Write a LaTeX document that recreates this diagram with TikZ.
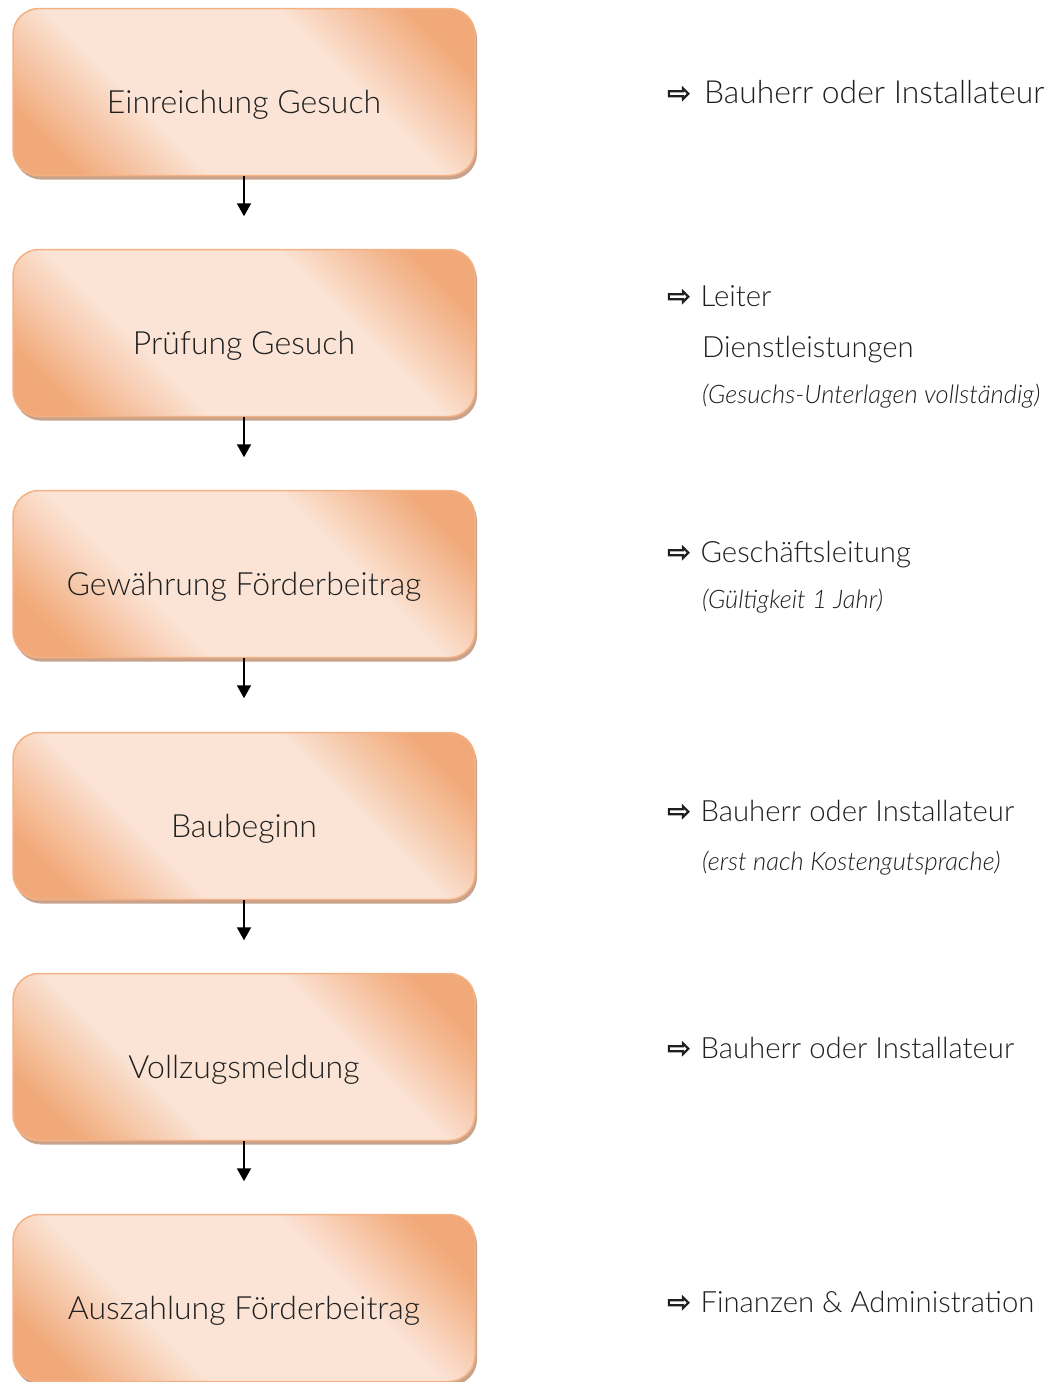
\documentclass[tikz,border=0pt]{standalone}
\usepackage{fontspec}
\setmainfont{Lato}[UprightFont=* Light, ItalicFont=* Light Italic]
\newfontfamily\arrowfont{DejaVu Sans}[FakeBold=3]
\usetikzlibrary{shadows,arrows.meta}
\definecolor{dk}{HTML}{F1A979}
\definecolor{lt}{HTML}{FBE4D6}
\colorlet{md}{dk!50!lt}
\definecolor{edge}{HTML}{F4B183}
\definecolor{shd}{HTML}{C9A28B}
\definecolor{txt}{HTML}{1F1F1F}
\pgfdeclareverticalshading{boxsh}{100bp}{color(0bp)=(dk); color(22bp)=(dk); color(29.5bp)=(md); color(37bp)=(lt); color(63bp)=(lt); color(70.5bp)=(md); color(78bp)=(dk); color(100bp)=(dk)}
\tikzset{
  box/.style={rounded corners=26pt, minimum width=462pt, minimum height=167pt, draw=edge, line width=1.5pt,
    shade, shading=boxsh, shading angle=-45,
    drop shadow={shadow xshift=2pt, shadow yshift=-4pt, fill=shd, opacity=1}},
  boxtext/.style={font=\fontsize{32}{38}\selectfont, text=txt, anchor=base},
  side/.style={font=\fontsize{29.3}{34}\selectfont, text=txt, anchor=base west, inner sep=0pt},
  note/.style={font=\fontsize{25.5}{30}\selectfont\itshape, text=txt, anchor=base west, inner sep=0pt},
  flow/.style={line width=2pt, -{Triangle[width=14pt,length=13pt]}}
}
\newcommand{\ar}[1][0.34em]{{\arrowfont\fontsize{28}{30}\selectfont\raisebox{0.5pt}{⇨}}\hspace{#1}}
\begin{document}
\begin{tikzpicture}[x=1pt,y=-1pt]
\useasboundingbox (0,0) rectangle (1052,1382);
\foreach \i/\t/\tx in {1/92/Einreichung Gesuch,2/333/Prüfung Gesuch,3/574/Gewährung Förderbeitrag,4/816/Baubeginn,5/1057/Vollzugsmeldung,6/1298/Auszahlung Förderbeitrag}{
  \node[box] (b\i) at (244,\t) {};
  \node[boxtext] (t\i) at (244,\t+21) {\tx};
}
\foreach \i in {1,...,5}{
  \coordinate (e\i) at ([yshift=-40pt]b\i.south);
  \draw[flow] (b\i.south) -- (e\i);
}
\node[side, font=\fontsize{31.8}{36}\selectfont] (r1) at (667,103) {\ar[0.15em] Bauherr oder Installateur};
\node[side] (r2) at (667,306) {\ar Leiter};
\node[side] (r2b) at (702,357) {Dienstleistungen};
\node[note] (r2c) at (702,403) {(Gesuchs-Unterlagen vollständig)};
\node[side] (r3) at (667,562) {\ar Geschäftsleitung};
\node[note] (r3c) at (702,608) {(Gültigkeit 1 Jahr)};
\node[side] (r4) at (667,821) {\ar Bauherr oder Installateur};
\node[note] (r4c) at (702,870) {(erst nach Kostengutsprache)};
\node[side] (r5) at (667,1058) {\ar Bauherr oder Installateur};
\node[side] (r6) at (667,1312) {\ar Finanzen \& Administration};
\end{tikzpicture}
\end{document}
